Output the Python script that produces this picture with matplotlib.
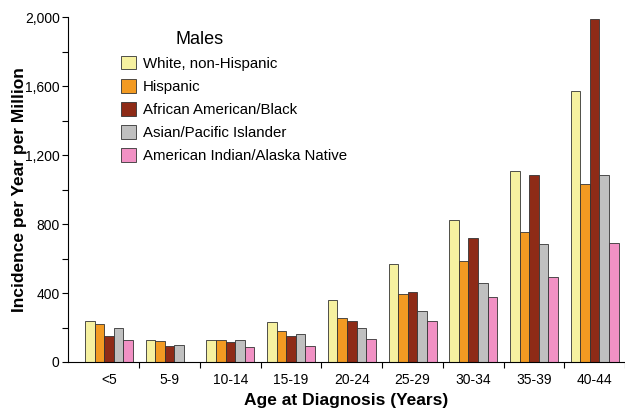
import matplotlib.pyplot as plt
import numpy as np

plt.rcParams['font.family'] = ['Liberation Sans', 'DejaVu Sans']

ages = ["<5", "5-9", "10-14", "15-19", "20-24", "25-29", "30-34", "35-39", "40-44"]
white = [235, 130, 130, 230, 360, 570, 825, 1110, 1570]
hispanic = [220, 120, 125, 180, 255, 395, 585, 755, 1030]
black = [150, 95, 115, 150, 235, 405, 720, 1085, 1990]
asian = [200, 100, 125, 165, 200, 295, 460, 685, 1085]
aian = [125, np.nan, 85, 95, 135, 240, 375, 495, 690]

groups = ["White, non-Hispanic", "Hispanic", "African American/Black",
          "Asian/Pacific Islander", "American Indian/Alaska Native"]
colors = ["#F6F1A0", "#F29A22", "#8E2B17", "#C0C0C0", "#F191C4"]

fig = plt.figure(figsize=(6.25, 4.13), dpi=100)
ax = fig.add_axes([0.1088, 0.1235, 0.8912, 0.835])

x = np.arange(len(ages))
w = 0.158
series = [white, hispanic, black, asian, aian]
for i, (vals, name, c) in enumerate(zip(series, groups, colors)):
    ax.bar(x + (i - 2) * w, vals, width=w, color=c, edgecolor="#333333",
           linewidth=0.6, label=name)

ax.set_xlim(-0.675, 8.5)
ax.set_ylim(0, 2000)
ax.set_yticks([0, 400, 800, 1200, 1600, 2000])
ax.set_yticklabels(["0", "400", "800", "1,200", "1,600", "2,000"], fontsize=10)
ax.set_yticks(np.arange(200, 2000, 400), minor=True)
ax.tick_params(axis="y", which="both", direction="out", length=4, width=0.8, pad=2)

ax.set_xticks(x)
ax.set_xticklabels(ages, fontsize=10)
ax.tick_params(axis="x", which="major", length=0, pad=8)
ax.set_xticks(np.arange(0.5, 8.6, 1), minor=True)
ax.tick_params(axis="x", which="minor", direction="out", length=4, width=0.8)

for s in ["top", "right"]:
    ax.spines[s].set_visible(False)
ax.spines["left"].set_linewidth(0.8)
ax.spines["bottom"].set_linewidth(0.8)

ax.set_ylabel("Incidence per Year per Million", fontsize=12.5, fontweight="bold")
ax.yaxis.set_label_coords(-0.074, 0.5)
ax.set_xlabel("Age at Diagnosis (Years)", fontsize=12.5, fontweight="bold", labelpad=4)

# legend title placed by hand, slightly left of the legend centre as in the original
fig.text(200 / 625, 1 - 39 / 413, "Males", fontsize=13, ha="center", va="center")
ax.legend(loc="upper left", bbox_to_anchor=(121 / 625, 1 - 56 / 413),
          bbox_transform=fig.transFigure, frameon=False, fontsize=10.8,
          handlelength=1.0, handleheight=1.0, handletextpad=0.45,
          labelspacing=0.55, borderpad=0, borderaxespad=0)

fig.savefig("out.png", dpi=100)
